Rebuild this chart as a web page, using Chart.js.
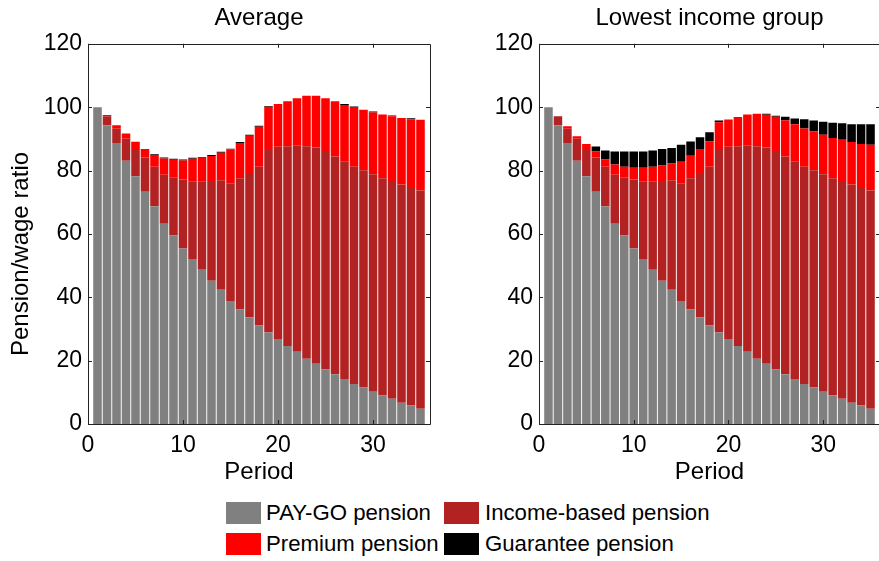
<!DOCTYPE html>
<html>
<head>
<meta charset="utf-8">
<script src="https://cdn.jsdelivr.net/npm/chart.js@4.4.1/dist/chart.umd.min.js"></script>
<style>
  html, body { margin: 0; padding: 0; background: #fff; overflow: hidden; }
  body { width: 879px; height: 561px; position: relative; font-family: 'Liberation Sans', Arial, sans-serif; }
  #left { position: absolute; left: 0; top: 0; }
  #right { position: absolute; left: 449px; top: 0; }
  .sw { position: absolute; width: 35px; height: 22px; }
  .lb { position: absolute; font-size: 22.2px; line-height: 22px; color: #000; white-space: nowrap; }
</style>
</head>
<body>
<canvas id="left" width="440" height="490"></canvas>
<canvas id="right" width="441" height="490"></canvas>

<div class="sw" style="left:226px;top:502px;background:#808080"></div>
<div class="lb" style="left:266px;top:502px">PAY-GO pension</div>
<div class="sw" style="left:444px;top:502px;background:#B22222"></div>
<div class="lb" style="left:485px;top:502px">Income-based pension</div>
<div class="sw" style="left:226px;top:533px;background:#FF0000"></div>
<div class="lb" style="left:266px;top:533px">Premium pension</div>
<div class="sw" style="left:444px;top:533px;background:#000000"></div>
<div class="lb" style="left:485px;top:533px">Guarantee pension</div>

<script>
// periods 1..35
const periods = [1, 2, 3, 4, 5, 6, 7, 8, 9, 10, 11, 12, 13, 14, 15, 16, 17, 18, 19, 20,
                 21, 22, 23, 24, 25, 26, 27, 28, 29, 30, 31, 32, 33, 34, 35];

// same PAY-GO and income-based parts in both panels
const payGo = [100, 94.3, 88.7, 83.1, 78.2, 73.3, 68.7, 63.2, 59.5, 55.4, 52.1, 48.7, 45.2, 42.4, 38.8,
               36.1, 33.6, 31.1, 28.9, 26.8, 24.6, 22.8, 20.6, 19.0, 17.2, 15.7, 14.2, 12.6, 11.5, 10.2,
               9.0, 8.0, 6.7, 5.8, 4.8];
const incomeBased = [0, 2.8, 4.5, 6.9, 8.6, 10.8, 12.5, 15.5, 18.4, 21.8, 24.5, 27.9, 31.5, 34.5, 37.2,
                     41.5, 45.6, 50.1, 57.9, 60.7, 63.1, 65.2, 67.1, 68.3, 69.0, 68.7, 68.7, 68.6, 68.6, 68.6,
                     68.6, 68.4, 68.9, 68.7, 68.9];

// Average
const premiumAvg = [0, 0.4, 1.1, 1.7, 2.3, 2.7, 3.7, 5.1, 5.5, 6.0, 7.1, 7.4, 7.9, 8.7, 10.6,
                    11.1, 11.8, 12.6, 13.3, 13.5, 14.2, 14.8, 15.9, 16.3, 16.6, 17.5, 17.8, 18.6, 19.1, 19.5,
                    20.1, 20.7, 21.0, 21.7, 22.3];
const guaranteeAvg = [0, 0, 0, 0, 0, 0, 0.2, 0.3, 0.3, 0.3, 0.3, 0.3, 0.3, 0.3, 0.3,
                      0.3, 0.3, 0.3, 0.3, 0, 0, 0, 0, 0, 0, 0, 0.3, 0.4, 0, 0.3,
                      0, 0.3, 0, 0.3, 0];

// Lowest income group
const premiumLow = [0, 0, 0.8, 0.8, 1.6, 1.9, 2.3, 3.2, 3.3, 3.7, 4.3, 4.6, 4.9, 5.3, 6.8,
                    7.1, 7.6, 8.0, 8.4, 8.6, 9.2, 9.7, 10.2, 10.3, 10.8, 11.5, 11.7, 12.1, 12.3, 12.5,
                    12.7, 13.3, 13.4, 13.9, 14.4];
const guaranteeLow = [0, 0, 0, 0, 0, 1.6, 2.8, 4.1, 4.8, 5.1, 5.1, 5.1, 5.2, 4.9, 5.3,
                      4.5, 3.7, 2.9, 0.6, 0, 0, 0, 0, 0.3, 0.3, 1.1, 1.8, 2.9, 3.4, 4.1,
                      4.8, 5.2, 5.6, 6.2, 6.5];

const xTicks = [0, 10, 20, 30];
const FONT = "'Liberation Sans', Arial, sans-serif";

function pts(vals) {
  return periods.map((p, i) => ({ x: p, y: vals[i] }));
}

// MATLAB style box with inward ticks
const boxPlugin = {
  id: 'box',
  afterDraw(chart) {
    const { ctx, chartArea: a, scales } = chart;
    const x = scales.x, y = scales.y;
    ctx.save();
    ctx.strokeStyle = '#222';
    ctx.lineWidth = 1;
    ctx.beginPath();
    ctx.rect(Math.round(a.left) + 0.5, Math.round(a.top) + 0.5,
             Math.round(a.right - a.left), Math.round(a.bottom - a.top));
    ctx.stroke();
    ctx.beginPath();
    y.ticks.forEach(t => {
      const py = Math.round(y.getPixelForValue(t.value)) + 0.5;
      ctx.moveTo(a.left, py); ctx.lineTo(a.left + 4, py);
      ctx.moveTo(a.right, py); ctx.lineTo(a.right - 4, py);
    });
    xTicks.forEach(v => {
      const px = Math.round(x.getPixelForValue(v)) + 0.5;
      ctx.moveTo(px, a.bottom); ctx.lineTo(px, a.bottom - 4);
      ctx.moveTo(px, a.top); ctx.lineTo(px, a.top + 4);
    });
    ctx.stroke();
    ctx.restore();
  }
};

const yTitlePlugin = {
  id: 'yTitle',
  afterDraw(chart) {
    if (!chart.options.plugins.yTitle || !chart.options.plugins.yTitle.text) return;
    const ctx = chart.ctx;
    ctx.save();
    ctx.translate(21, 254);
    ctx.rotate(-Math.PI / 2);
    ctx.font = '24px ' + FONT;
    ctx.fillStyle = '#000';
    ctx.textAlign = 'center';
    ctx.textBaseline = 'middle';
    ctx.fillText(chart.options.plugins.yTitle.text, 0, 0);
    ctx.restore();
  }
};

function makePanel(id, title, premium, guarantee, yLabel, yWidth) {
  new Chart(document.getElementById(id), {
    type: 'bar',
    data: {
      datasets: [
        { label: 'PAY-GO pension', data: pts(payGo), backgroundColor: '#808080' },
        { label: 'Income-based pension', data: pts(incomeBased), backgroundColor: '#B22222' },
        { label: 'Premium pension', data: pts(premium), backgroundColor: '#FF0000' },
        { label: 'Guarantee pension', data: pts(guarantee), backgroundColor: '#000000' }
      ]
    },
    options: {
      responsive: false,
      animation: false,
      layout: { padding: { top: 0, right: 10, bottom: 0, left: 0 } },
      datasets: { bar: { barPercentage: 0.9, categoryPercentage: 1, borderWidth: 0 } },
      scales: {
        x: {
          type: 'linear',
          stacked: true,
          offset: false,
          min: 0,
          max: 36,
          grid: { display: false, drawTicks: false },
          border: { display: false },
          afterBuildTicks: s => { s.ticks = xTicks.map(v => ({ value: v })); },
          afterFit: s => { s.height = 66; },
          ticks: { color: '#000', padding: 8, maxRotation: 0, font: { family: FONT, size: 23 } },
          title: { display: true, text: 'Period', color: '#000', padding: { top: 0, bottom: 3 },
                   font: { family: FONT, size: 24 } }
        },
        y: {
          stacked: true,
          min: 0,
          max: 120,
          grid: { display: false, drawTicks: false },
          border: { display: false },
          afterFit: s => { s.width = yWidth; },
          ticks: { stepSize: 20, color: '#000', padding: 6, font: { family: FONT, size: 23 } }
        }
      },
      plugins: {
        legend: { display: false },
        tooltip: { enabled: false },
        yTitle: { text: yLabel },
        title: {
          display: true,
          text: title,
          fullSize: false,
          color: '#000',
          padding: { top: 4, bottom: 11 },
          font: { family: FONT, size: 24, weight: 'normal' }
        }
      }
    },
    plugins: [boxPlugin, yTitlePlugin]
  });
}

makePanel('left', 'Average', premiumAvg, guaranteeAvg, 'Pension/wage ratio', 88);
makePanel('right', 'Lowest income group', premiumLow, guaranteeLow, '', 90);
</script>
</body>
</html>
